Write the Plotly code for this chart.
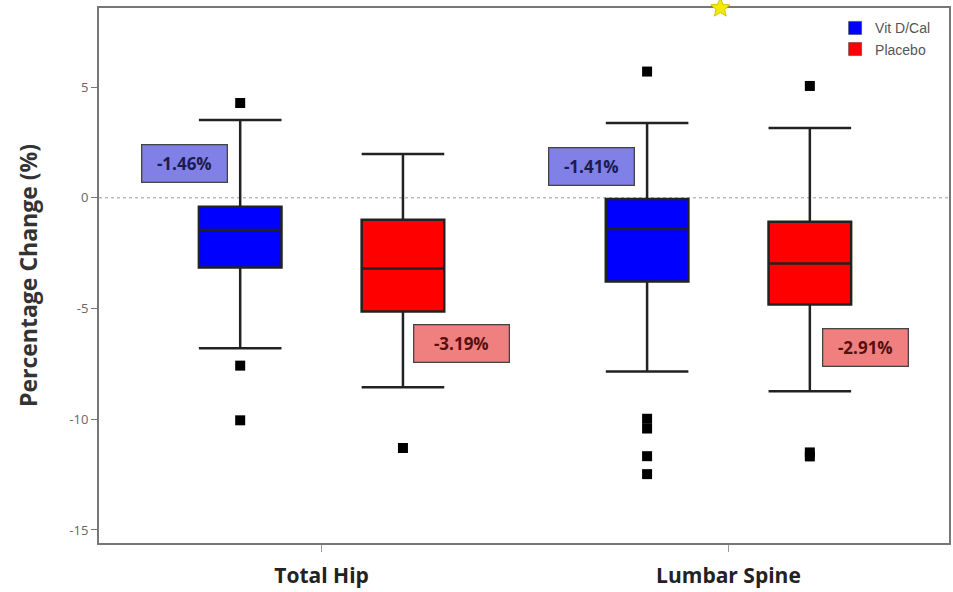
import plotly.graph_objects as go

# ---------------- data ----------------
categories = ["Total Hip", "Lumbar Spine"]
groups = ["Vit D/Cal", "Placebo"]

# per group: values for [Total Hip, Lumbar Spine]
vitd_upper = [3.51, 3.38]
vitd_q3 = [-0.41, -0.05]
vitd_median = [-1.46, -1.41]
vitd_q1 = [-3.15, -3.78]
vitd_lower = [-6.8, -7.85]
vitd_outliers = [[4.28, -7.58, -10.05], [5.7, -9.98, -10.42, -11.67, -12.48]]

pl_upper = [1.98, 3.15]
pl_q3 = [-0.99, -1.08]
pl_median = [-3.19, -2.97]
pl_q1 = [-5.14, -4.82]
pl_lower = [-8.56, -8.74]
pl_outliers = [[-11.3], [5.05, -11.5, -11.68]]

mean_labels_vitd = ["-1.46%", "-1.41%"]
mean_labels_pl = ["-3.19%", "-2.91%"]
label_y_vitd = [1.53, 1.4]
label_y_pl = [-6.58, -6.76]

y_ticks = [5, 0, -5, -10, -15]
y_ticktext = ["5", "0", "-5", "-10", "-15"]

# ---------------- style ----------------
OFFSET = 0.2
BOXW = 0.203
COL_VITD = "#0000ff"
COL_PL = "#ff0000"
LINE = "#222222"

fig = go.Figure()

idx = list(range(len(categories)))

def add_group(name, color, sign, up, q3, med, q1, lo, outl):
    xs = [i + sign * OFFSET for i in idx]
    fig.add_trace(go.Box(
        x=xs, q1=q1, median=med, q3=q3, lowerfence=lo, upperfence=up,
        width=BOXW, whiskerwidth=1, fillcolor=color,
        line=dict(color=LINE, width=2.5), boxpoints=False,
        name=name, showlegend=False, hoverinfo="skip"))
    ox, oy = [], []
    for i, vals in zip(idx, outl):
        for v in vals:
            ox.append(i + sign * OFFSET)
            oy.append(v)
    fig.add_trace(go.Scatter(
        x=ox, y=oy, mode="markers",
        marker=dict(symbol="square", size=10, color="#000000"),
        showlegend=False, hoverinfo="skip"))
    fig.add_trace(go.Scatter(
        x=[None], y=[None], mode="markers", name=name,
        marker=dict(symbol="square", size=13, color=color,
                    line=dict(color="#333333", width=0.5))))

add_group(groups[0], COL_VITD, -1, vitd_upper, vitd_q3, vitd_median, vitd_q1, vitd_lower, vitd_outliers)
add_group(groups[1], COL_PL, 1, pl_upper, pl_q3, pl_median, pl_q1, pl_lower, pl_outliers)

# mean labels
lab_font = "Open Sans"
for i in idx:
    fig.add_annotation(x=i - 0.337, y=label_y_vitd[i], text="<b>" + mean_labels_vitd[i] + "</b>",
                       showarrow=False, bgcolor="#8080e6", bordercolor="#444444", borderwidth=1.3,
                       width=74, height=26, borderpad=5,
                       font=dict(family=lab_font, size=17, color="#1b1b50"))
    fig.add_annotation(x=i + 0.337 + (0.006 if i == 0 else 0), y=label_y_pl[i],
                       text="<b>" + mean_labels_pl[i] + "</b>",
                       showarrow=False, bgcolor="#f08080", bordercolor="#444444", borderwidth=1.3,
                       width=84 if i == 0 else 74, height=26, borderpad=5,
                       font=dict(family=lab_font, size=17, color="#551010"))

# zero reference line
fig.add_shape(type="line", xref="paper", x0=0, x1=1, y0=0, y1=0,
              line=dict(color="#bbbbbb", width=1.5, dash="dot"), layer="below")

# small yellow star sitting on the top edge (decorative)
import math
pts = []
for k in range(10):
    r = 10 if k % 2 == 0 else 4.5
    a = math.pi / 2 + k * math.pi / 5
    pts.append((r * math.cos(a), r * math.sin(a)))
star_path = "M " + " L ".join(f"{px:.2f},{py:.2f}" for px, py in pts) + " Z"
fig.add_shape(type="path", xref="x", yref="paper", xsizemode="pixel", ysizemode="pixel",
              xanchor=0.98, yanchor=1.0, path=star_path,
              fillcolor="#f2ea00", line=dict(color="#d4c400", width=1), layer="above")

fig.update_layout(
    width=953, height=592,
    margin=dict(l=99, r=2, t=8, b=49),
    plot_bgcolor="white", paper_bgcolor="white",
    boxmode="overlay",
    font=dict(family="Open Sans", color="#555555"),
    legend=dict(x=0.866, y=0.992, xanchor="left", yanchor="top",
                font=dict(family="Liberation Sans", size=14, color="#555555"),
                bgcolor="rgba(0,0,0,0)", itemwidth=30, tracegroupgap=0),
)
fig.update_xaxes(
    range=[-0.547, 1.542], tickmode="array", tickvals=idx, ticktext=categories,
    showgrid=False, zeroline=False, showline=True, linecolor="#777777", linewidth=2,
    mirror=True, ticks="outside", ticklen=7, tickcolor="#999999", ticklabelstandoff=6,
    tickfont=dict(family="Open Sans", size=21, color="#222222", weight="bold"))
fig.update_yaxes(
    range=[-15.59, 8.57], tickmode="array", tickvals=y_ticks, ticktext=y_ticktext,
    showgrid=False, zeroline=False, showline=True, linecolor="#777777", linewidth=2,
    mirror=True, ticks="outside", ticklen=6, tickcolor="#777777",
    tickfont=dict(family="Open Sans", size=13, color="#666666"),
    title=dict(text="<b>Percentage Change (%)</b>", standoff=25,
               font=dict(family="Open Sans", size=23, color="#333333")))

fig.write_html("out.html")
